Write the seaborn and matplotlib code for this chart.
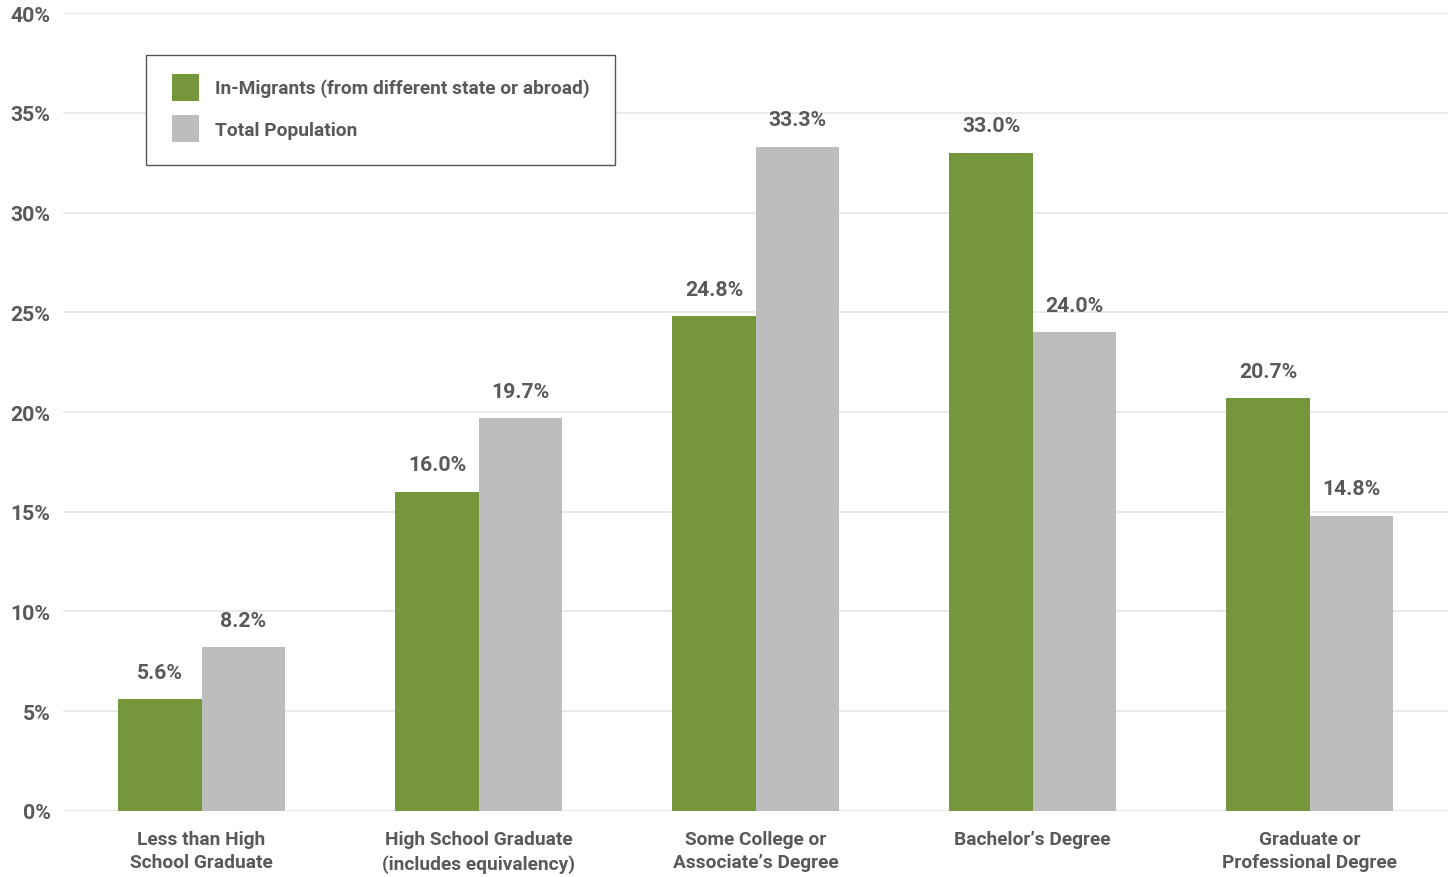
import matplotlib
matplotlib.use("Agg")
import matplotlib.pyplot as plt
import seaborn as sns
import pandas as pd
from matplotlib.ticker import FuncFormatter
from matplotlib.patches import Rectangle

categories = ["Less than High\nSchool Graduate", "High School Graduate\n(includes equivalency)",
              "Some College or\nAssociate\u2019s Degree", "Bachelor\u2019s Degree",
              "Graduate or\nProfessional Degree"]
series_names = ["In-Migrants (from different state or abroad)", "Total Population"]
in_migrants = [5.6, 16.0, 24.8, 33.0, 20.7]
total_population = [8.2, 19.7, 33.3, 24.0, 14.8]
yticks = [0, 5, 10, 15, 20, 25, 30, 35, 40]
colors = ["#76963c", "#bdbdbd"]

df = pd.DataFrame({
    "cat": categories * 2,
    "series": [series_names[0]] * 5 + [series_names[1]] * 5,
    "value": in_migrants + total_population,
})

sns.set_style("white")
plt.rcParams["font.family"] = ["Roboto", "DejaVu Sans"]
text_color = "#595959"
fs = 13.8
fs_num = 15.3
wt = "bold"

fig = plt.figure(figsize=(14.53, 8.78), dpi=100)
ax = fig.add_axes([0.0434, 0.0752, 0.9532, 0.9088])
sns.barplot(data=df, x="cat", y="value", hue="series", palette=colors,
            width=0.6, saturation=1, ax=ax, legend=True, linewidth=0)

ax.set_ylim(0, 40)
ax.set_xlim(-0.5, 4.5)
ax.set_yticks(yticks)
ax.yaxis.set_major_formatter(FuncFormatter(lambda v, p: f"{int(v)}%"))
ax.grid(axis="y", color="#e6e6e6", linewidth=1.2)
ax.set_axisbelow(True)
for s in ax.spines.values():
    s.set_visible(False)
ax.set_xlabel("")
ax.set_ylabel("")
ax.tick_params(axis="x", length=0, labelsize=fs, labelcolor=text_color, pad=14)
ax.tick_params(axis="y", length=0, labelsize=fs_num, labelcolor=text_color, pad=9)
for lab in ax.get_xticklabels() + ax.get_yticklabels():
    lab.set_fontweight(wt)
    lab.set_linespacing(1.36)

for cont in ax.containers:
    ax.bar_label(cont, fmt="%.1f%%", padding=12.5, fontsize=fs_num, color=text_color,
                 fontweight=wt)

# legend frame drawn separately so inner paddings can match the reference
ax.add_patch(Rectangle((0.0599, 0.8095), 0.3387, 0.1379, transform=ax.transAxes,
                       facecolor="white", edgecolor="#555555", linewidth=1.0,
                       zorder=4, clip_on=False))
leg = ax.legend(loc="upper left", bbox_to_anchor=(0.0787, 0.924), frameon=False,
                fontsize=fs, handlelength=1.41, handleheight=1.79,
                handletextpad=0.83, borderpad=0, labelspacing=0.77,
                borderaxespad=0)
leg.set_zorder(5)
for t in leg.get_texts():
    t.set_color(text_color)
    t.set_fontweight(wt)

fig.savefig("out.png", dpi=100)
